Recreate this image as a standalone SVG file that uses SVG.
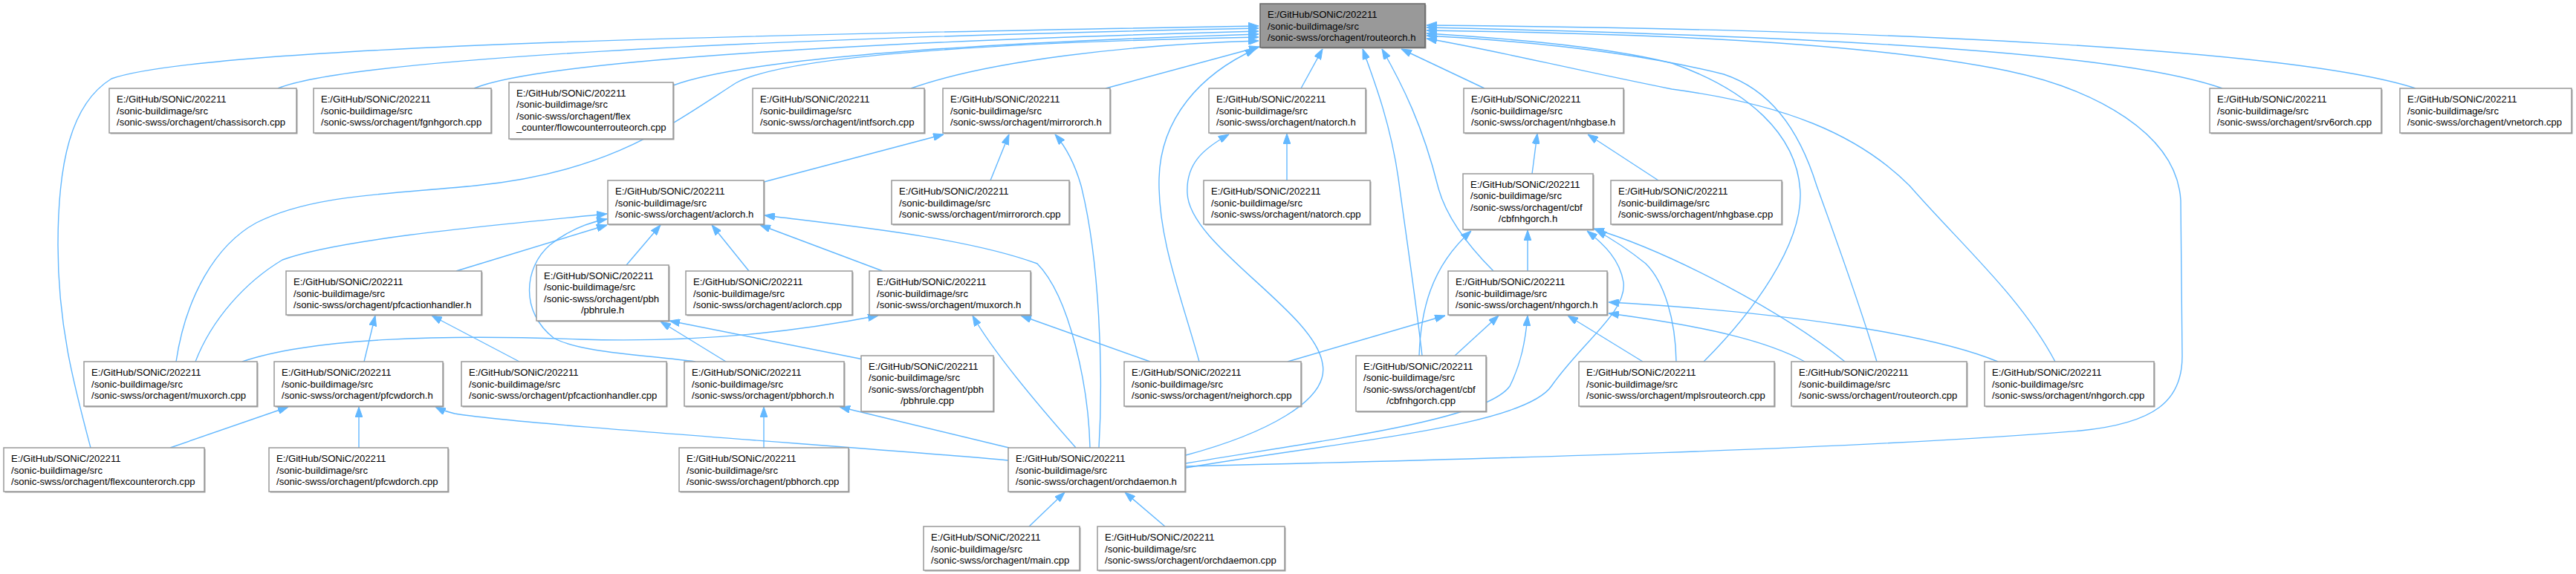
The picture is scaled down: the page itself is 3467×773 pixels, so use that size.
<svg xmlns="http://www.w3.org/2000/svg" width="3467" height="773" viewBox="0 0 3467 773">
<style>
.node rect.b{fill:#ffffff;stroke:#999999;stroke-width:1.5}
.node rect.sh{fill:#a0a0a0;stroke:none}
.root rect.b{fill:#999999;stroke:#666666}
.node text{font-family:"Liberation Sans",Arial,Helvetica,sans-serif;font-size:13.1px;fill:#000000}
.node text.c{text-anchor:middle}
.edges path{fill:none;stroke:#63b8ff;stroke-width:1.4;marker-end:url(#ah)}
</style>
<defs>
<marker id="ah" viewBox="0 0 14 10" refX="14" refY="5" markerWidth="14" markerHeight="10" markerUnits="userSpaceOnUse" orient="auto"><path d="M0,0 L14,5 L0,10 z" fill="#63b8ff" stroke="#63b8ff" stroke-width="1"/></marker>
</defs>
<rect width="3467" height="773" fill="#ffffff"/>
<g class="edges" id="edges">
<path d="M122,603 C100,520 78,440 78,330 C78,220 95,140 150,106 C280,60 1100,45 1694,35"/>
<path d="M374,119 C470,80 1000,52 1694,38"/>
<path d="M638,119 C720,85 1100,58 1694,42"/>
<path d="M906,115 C1000,80 1300,58 1694,46"/>
<path d="M237,487 C250,400 290,330 345,300 C420,262 520,262 640,250 C820,232 900,170 990,112 C1050,78 1300,58 1694,50"/>
<path d="M1226,119 C1330,82 1520,60 1694,55"/>
<path d="M1488,119 L1695,63"/>
<path d="M1614,487 C1590,400 1558,320 1560,240 C1562,160 1615,100 1690,66"/>
<path d="M1751,119 L1780,66"/>
<path d="M1914,479 C1905,400 1890,300 1882,240 C1872,170 1852,115 1834,66"/>
<path d="M2010,365 C1975,330 1945,290 1935,250 C1915,170 1888,115 1860,66"/>
<path d="M1998,119 L1886,66"/>
<path d="M2991,119 C2880,80 2600,52 1920,37"/>
<path d="M3251,119 C3100,70 2600,40 1920,34"/>
<path d="M1596,628 C2000,618 2500,605 2800,580 C2900,570 2937,540 2937,480 L2935,270 C2930,180 2820,120 2700,95 C2500,55 2200,45 1920,41"/>
<path d="M2293,487 C2360,420 2425,330 2423,260 C2420,180 2350,120 2250,85 C2150,60 2000,50 1920,45"/>
<path d="M2526,487 C2500,400 2470,320 2445,250 C2420,170 2380,120 2320,100 C2200,70 2050,55 1920,48"/>
<path d="M2766,487 C2720,400 2640,330 2570,250 C2500,180 2400,140 2250,120 C2100,90 2000,65 1920,52"/>
<path d="M1028,245 L1270,181"/>
<path d="M1333,243 L1358,181"/>
<path d="M1479,603 C1485,500 1480,350 1455,250 C1445,215 1432,195 1420,181"/>
<path d="M1732,243 L1732,180"/>
<path d="M1596,613 C1700,585 1790,540 1780,490 C1770,420 1600,330 1598,260 C1596,220 1620,200 1654,181"/>
<path d="M2062,234 L2069,180"/>
<path d="M2232,243 L2137,181"/>
<path d="M614,365 L817,303"/>
<path d="M843,357 L889,303"/>
<path d="M1008,365 L958,303"/>
<path d="M1188,365 L1023,303"/>
<path d="M263,487 C285,430 330,380 380,350 C460,320 700,300 817,288"/>
<path d="M936,487 C870,478 780,475 745,455 C700,420 705,360 740,330 C765,310 790,300 817,295"/>
<path d="M1467,603 C1465,520 1440,400 1396,355 C1300,320 1150,305 1029,290"/>
<path d="M1910,479 C1912,420 1925,360 1980,311"/>
<path d="M2056,365 L2056,310"/>
<path d="M1596,630 C1800,595 2050,575 2088,520 C2130,460 2190,420 2185,380 C2180,350 2160,330 2136,311"/>
<path d="M2256,487 C2255,430 2240,380 2215,355 C2190,335 2170,322 2148,310"/>
<path d="M2483,487 C2400,420 2250,340 2145,308"/>
<path d="M490,487 L505,425"/>
<path d="M699,487 L581,425"/>
<path d="M977,487 L889,433"/>
<path d="M1162,484 L901,432"/>
<path d="M326,487 C420,455 600,450 780,457 C950,462 1080,445 1182,425"/>
<path d="M1448,603 C1410,560 1340,480 1309,425"/>
<path d="M1548,487 L1374,425"/>
<path d="M1733,487 L1945,425"/>
<path d="M1958,479 L2017,425"/>
<path d="M1596,624 C1800,590 2000,565 2032,520 C2047,490 2053,460 2056,425"/>
<path d="M2211,487 L2110,425"/>
<path d="M2429,487 C2380,460 2300,440 2165,422"/>
<path d="M2689,487 C2600,450 2400,420 2165,407"/>
<path d="M229,603 L388,548"/>
<path d="M483,603 L483,548"/>
<path d="M1357,620 C1200,605 700,572 612,557 C600,554 592,551 586,548"/>
<path d="M1028,603 L1028,548"/>
<path d="M1358,603 L1130,548"/>
<path d="M1385,709 L1433,663"/>
<path d="M1568,709 L1514,663"/>
</g>
<g id="routeorch_h" class="node root"><rect class="sh" x="1697.5" y="6.5" width="222" height="59"/><rect class="b" x="1696" y="5" width="222" height="59"/><text x="1706" y="24">E:/GitHub/SONiC/202211</text><text x="1706" y="39.5">/sonic-buildimage/src</text><text x="1706" y="55">/sonic-swss/orchagent/routeorch.h</text></g>
<g id="chassisorch_cpp" class="node"><rect class="sh" x="148.5" y="120.5" width="252" height="60"/><rect class="b" x="147" y="119" width="252" height="60"/><text x="157" y="138">E:/GitHub/SONiC/202211</text><text x="157" y="153.5">/sonic-buildimage/src</text><text x="157" y="169">/sonic-swss/orchagent/chassisorch.cpp</text></g>
<g id="fgnhgorch_cpp" class="node"><rect class="sh" x="423.5" y="120.5" width="239" height="60"/><rect class="b" x="422" y="119" width="239" height="60"/><text x="432" y="138">E:/GitHub/SONiC/202211</text><text x="432" y="153.5">/sonic-buildimage/src</text><text x="432" y="169">/sonic-swss/orchagent/fgnhgorch.cpp</text></g>
<g id="flowcounterrouteorch_cpp" class="node"><rect class="sh" x="686.5" y="112.5" width="221" height="76"/><rect class="b" x="685" y="111" width="221" height="76"/><text x="695" y="129.5">E:/GitHub/SONiC/202211</text><text x="695" y="145">/sonic-buildimage/src</text><text x="695" y="160.5">/sonic-swss/orchagent/flex</text><text x="695" y="176">_counter/flowcounterrouteorch.cpp</text></g>
<g id="intfsorch_cpp" class="node"><rect class="sh" x="1014.5" y="120.5" width="231" height="60"/><rect class="b" x="1013" y="119" width="231" height="60"/><text x="1023" y="138">E:/GitHub/SONiC/202211</text><text x="1023" y="153.5">/sonic-buildimage/src</text><text x="1023" y="169">/sonic-swss/orchagent/intfsorch.cpp</text></g>
<g id="mirrororch_h" class="node"><rect class="sh" x="1270.5" y="120.5" width="225" height="60"/><rect class="b" x="1269" y="119" width="225" height="60"/><text x="1279" y="138">E:/GitHub/SONiC/202211</text><text x="1279" y="153.5">/sonic-buildimage/src</text><text x="1279" y="169">/sonic-swss/orchagent/mirrororch.h</text></g>
<g id="natorch_h" class="node"><rect class="sh" x="1628.5" y="120.5" width="211" height="60"/><rect class="b" x="1627" y="119" width="211" height="60"/><text x="1637" y="138">E:/GitHub/SONiC/202211</text><text x="1637" y="153.5">/sonic-buildimage/src</text><text x="1637" y="169">/sonic-swss/orchagent/natorch.h</text></g>
<g id="nhgbase_h" class="node"><rect class="sh" x="1971.5" y="120.5" width="215" height="60"/><rect class="b" x="1970" y="119" width="215" height="60"/><text x="1980" y="138">E:/GitHub/SONiC/202211</text><text x="1980" y="153.5">/sonic-buildimage/src</text><text x="1980" y="169">/sonic-swss/orchagent/nhgbase.h</text></g>
<g id="srv6orch_cpp" class="node"><rect class="sh" x="2975.5" y="120.5" width="231" height="60"/><rect class="b" x="2974" y="119" width="231" height="60"/><text x="2984" y="138">E:/GitHub/SONiC/202211</text><text x="2984" y="153.5">/sonic-buildimage/src</text><text x="2984" y="169">/sonic-swss/orchagent/srv6orch.cpp</text></g>
<g id="vnetorch_cpp" class="node"><rect class="sh" x="3231.5" y="120.5" width="231" height="60"/><rect class="b" x="3230" y="119" width="231" height="60"/><text x="3240" y="138">E:/GitHub/SONiC/202211</text><text x="3240" y="153.5">/sonic-buildimage/src</text><text x="3240" y="169">/sonic-swss/orchagent/vnetorch.cpp</text></g>
<g id="aclorch_h" class="node"><rect class="sh" x="819.5" y="244.5" width="210" height="59"/><rect class="b" x="818" y="243" width="210" height="59"/><text x="828" y="262">E:/GitHub/SONiC/202211</text><text x="828" y="277.5">/sonic-buildimage/src</text><text x="828" y="293">/sonic-swss/orchagent/aclorch.h</text></g>
<g id="mirrororch_cpp" class="node"><rect class="sh" x="1201.5" y="244.5" width="239" height="59"/><rect class="b" x="1200" y="243" width="239" height="59"/><text x="1210" y="262">E:/GitHub/SONiC/202211</text><text x="1210" y="277.5">/sonic-buildimage/src</text><text x="1210" y="293">/sonic-swss/orchagent/mirrororch.cpp</text></g>
<g id="natorch_cpp" class="node"><rect class="sh" x="1621.5" y="244.5" width="224" height="59"/><rect class="b" x="1620" y="243" width="224" height="59"/><text x="1630" y="262">E:/GitHub/SONiC/202211</text><text x="1630" y="277.5">/sonic-buildimage/src</text><text x="1630" y="293">/sonic-swss/orchagent/natorch.cpp</text></g>
<g id="cbfnhgorch_h" class="node"><rect class="sh" x="1970.5" y="235.5" width="175" height="75"/><rect class="b" x="1969" y="234" width="175" height="75"/><text x="1979" y="252.5">E:/GitHub/SONiC/202211</text><text x="1979" y="268">/sonic-buildimage/src</text><text x="1979" y="283.5">/sonic-swss/orchagent/cbf</text><text class="c" x="2056.5" y="299">/cbfnhgorch.h</text></g>
<g id="nhgbase_cpp" class="node"><rect class="sh" x="2169.5" y="244.5" width="230" height="59"/><rect class="b" x="2168" y="243" width="230" height="59"/><text x="2178" y="262">E:/GitHub/SONiC/202211</text><text x="2178" y="277.5">/sonic-buildimage/src</text><text x="2178" y="293">/sonic-swss/orchagent/nhgbase.cpp</text></g>
<g id="pfcactionhandler_h" class="node"><rect class="sh" x="386.5" y="366.5" width="263" height="59"/><rect class="b" x="385" y="365" width="263" height="59"/><text x="395" y="384">E:/GitHub/SONiC/202211</text><text x="395" y="399.5">/sonic-buildimage/src</text><text x="395" y="415">/sonic-swss/orchagent/pfcactionhandler.h</text></g>
<g id="pbhrule_h" class="node"><rect class="sh" x="723.5" y="358.5" width="178" height="75"/><rect class="b" x="722" y="357" width="178" height="75"/><text x="732" y="375.5">E:/GitHub/SONiC/202211</text><text x="732" y="391">/sonic-buildimage/src</text><text x="732" y="406.5">/sonic-swss/orchagent/pbh</text><text class="c" x="811" y="422">/pbhrule.h</text></g>
<g id="aclorch_cpp" class="node"><rect class="sh" x="924.5" y="366.5" width="224" height="59"/><rect class="b" x="923" y="365" width="224" height="59"/><text x="933" y="384">E:/GitHub/SONiC/202211</text><text x="933" y="399.5">/sonic-buildimage/src</text><text x="933" y="415">/sonic-swss/orchagent/aclorch.cpp</text></g>
<g id="muxorch_h" class="node"><rect class="sh" x="1171.5" y="366.5" width="217" height="59"/><rect class="b" x="1170" y="365" width="217" height="59"/><text x="1180" y="384">E:/GitHub/SONiC/202211</text><text x="1180" y="399.5">/sonic-buildimage/src</text><text x="1180" y="415">/sonic-swss/orchagent/muxorch.h</text></g>
<g id="nhgorch_h" class="node"><rect class="sh" x="1950.5" y="366.5" width="214" height="59"/><rect class="b" x="1949" y="365" width="214" height="59"/><text x="1959" y="384">E:/GitHub/SONiC/202211</text><text x="1959" y="399.5">/sonic-buildimage/src</text><text x="1959" y="415">/sonic-swss/orchagent/nhgorch.h</text></g>
<g id="muxorch_cpp" class="node"><rect class="sh" x="114.5" y="488.5" width="233" height="60"/><rect class="b" x="113" y="487" width="233" height="60"/><text x="123" y="506">E:/GitHub/SONiC/202211</text><text x="123" y="521.5">/sonic-buildimage/src</text><text x="123" y="537">/sonic-swss/orchagent/muxorch.cpp</text></g>
<g id="pfcwdorch_h" class="node"><rect class="sh" x="370.5" y="488.5" width="227" height="60"/><rect class="b" x="369" y="487" width="227" height="60"/><text x="379" y="506">E:/GitHub/SONiC/202211</text><text x="379" y="521.5">/sonic-buildimage/src</text><text x="379" y="537">/sonic-swss/orchagent/pfcwdorch.h</text></g>
<g id="pfcactionhandler_cpp" class="node"><rect class="sh" x="622.5" y="488.5" width="276" height="60"/><rect class="b" x="621" y="487" width="276" height="60"/><text x="631" y="506">E:/GitHub/SONiC/202211</text><text x="631" y="521.5">/sonic-buildimage/src</text><text x="631" y="537">/sonic-swss/orchagent/pfcactionhandler.cpp</text></g>
<g id="pbhorch_h" class="node"><rect class="sh" x="922.5" y="488.5" width="215" height="60"/><rect class="b" x="921" y="487" width="215" height="60"/><text x="931" y="506">E:/GitHub/SONiC/202211</text><text x="931" y="521.5">/sonic-buildimage/src</text><text x="931" y="537">/sonic-swss/orchagent/pbhorch.h</text></g>
<g id="pbhrule_cpp" class="node"><rect class="sh" x="1160.5" y="480.5" width="178" height="75"/><rect class="b" x="1159" y="479" width="178" height="75"/><text x="1169" y="497.5">E:/GitHub/SONiC/202211</text><text x="1169" y="513">/sonic-buildimage/src</text><text x="1169" y="528.5">/sonic-swss/orchagent/pbh</text><text class="c" x="1248" y="544">/pbhrule.cpp</text></g>
<g id="neighorch_cpp" class="node"><rect class="sh" x="1514.5" y="488.5" width="238" height="60"/><rect class="b" x="1513" y="487" width="238" height="60"/><text x="1523" y="506">E:/GitHub/SONiC/202211</text><text x="1523" y="521.5">/sonic-buildimage/src</text><text x="1523" y="537">/sonic-swss/orchagent/neighorch.cpp</text></g>
<g id="cbfnhgorch_cpp" class="node"><rect class="sh" x="1826.5" y="480.5" width="175" height="75"/><rect class="b" x="1825" y="479" width="175" height="75"/><text x="1835" y="497.5">E:/GitHub/SONiC/202211</text><text x="1835" y="513">/sonic-buildimage/src</text><text x="1835" y="528.5">/sonic-swss/orchagent/cbf</text><text class="c" x="1912.5" y="544">/cbfnhgorch.cpp</text></g>
<g id="mplsrouteorch_cpp" class="node"><rect class="sh" x="2126.5" y="488.5" width="263" height="60"/><rect class="b" x="2125" y="487" width="263" height="60"/><text x="2135" y="506">E:/GitHub/SONiC/202211</text><text x="2135" y="521.5">/sonic-buildimage/src</text><text x="2135" y="537">/sonic-swss/orchagent/mplsrouteorch.cpp</text></g>
<g id="routeorch_cpp" class="node"><rect class="sh" x="2412.5" y="488.5" width="236" height="60"/><rect class="b" x="2411" y="487" width="236" height="60"/><text x="2421" y="506">E:/GitHub/SONiC/202211</text><text x="2421" y="521.5">/sonic-buildimage/src</text><text x="2421" y="537">/sonic-swss/orchagent/routeorch.cpp</text></g>
<g id="nhgorch_cpp" class="node"><rect class="sh" x="2672.5" y="488.5" width="228" height="60"/><rect class="b" x="2671" y="487" width="228" height="60"/><text x="2681" y="506">E:/GitHub/SONiC/202211</text><text x="2681" y="521.5">/sonic-buildimage/src</text><text x="2681" y="537">/sonic-swss/orchagent/nhgorch.cpp</text></g>
<g id="flexcounterorch_cpp" class="node"><rect class="sh" x="6.5" y="604.5" width="270" height="59"/><rect class="b" x="5" y="603" width="270" height="59"/><text x="15" y="622">E:/GitHub/SONiC/202211</text><text x="15" y="637.5">/sonic-buildimage/src</text><text x="15" y="653">/sonic-swss/orchagent/flexcounterorch.cpp</text></g>
<g id="pfcwdorch_cpp" class="node"><rect class="sh" x="363.5" y="604.5" width="241" height="59"/><rect class="b" x="362" y="603" width="241" height="59"/><text x="372" y="622">E:/GitHub/SONiC/202211</text><text x="372" y="637.5">/sonic-buildimage/src</text><text x="372" y="653">/sonic-swss/orchagent/pfcwdorch.cpp</text></g>
<g id="pbhorch_cpp" class="node"><rect class="sh" x="915.5" y="604.5" width="228" height="59"/><rect class="b" x="914" y="603" width="228" height="59"/><text x="924" y="622">E:/GitHub/SONiC/202211</text><text x="924" y="637.5">/sonic-buildimage/src</text><text x="924" y="653">/sonic-swss/orchagent/pbhorch.cpp</text></g>
<g id="orchdaemon_h" class="node"><rect class="sh" x="1358.5" y="604.5" width="238" height="59"/><rect class="b" x="1357" y="603" width="238" height="59"/><text x="1367" y="622">E:/GitHub/SONiC/202211</text><text x="1367" y="637.5">/sonic-buildimage/src</text><text x="1367" y="653">/sonic-swss/orchagent/orchdaemon.h</text></g>
<g id="main_cpp" class="node"><rect class="sh" x="1244.5" y="710.5" width="210" height="59"/><rect class="b" x="1243" y="709" width="210" height="59"/><text x="1253" y="728">E:/GitHub/SONiC/202211</text><text x="1253" y="743.5">/sonic-buildimage/src</text><text x="1253" y="759">/sonic-swss/orchagent/main.cpp</text></g>
<g id="orchdaemon_cpp" class="node"><rect class="sh" x="1478.5" y="710.5" width="252" height="59"/><rect class="b" x="1477" y="709" width="252" height="59"/><text x="1487" y="728">E:/GitHub/SONiC/202211</text><text x="1487" y="743.5">/sonic-buildimage/src</text><text x="1487" y="759">/sonic-swss/orchagent/orchdaemon.cpp</text></g>
</svg>
